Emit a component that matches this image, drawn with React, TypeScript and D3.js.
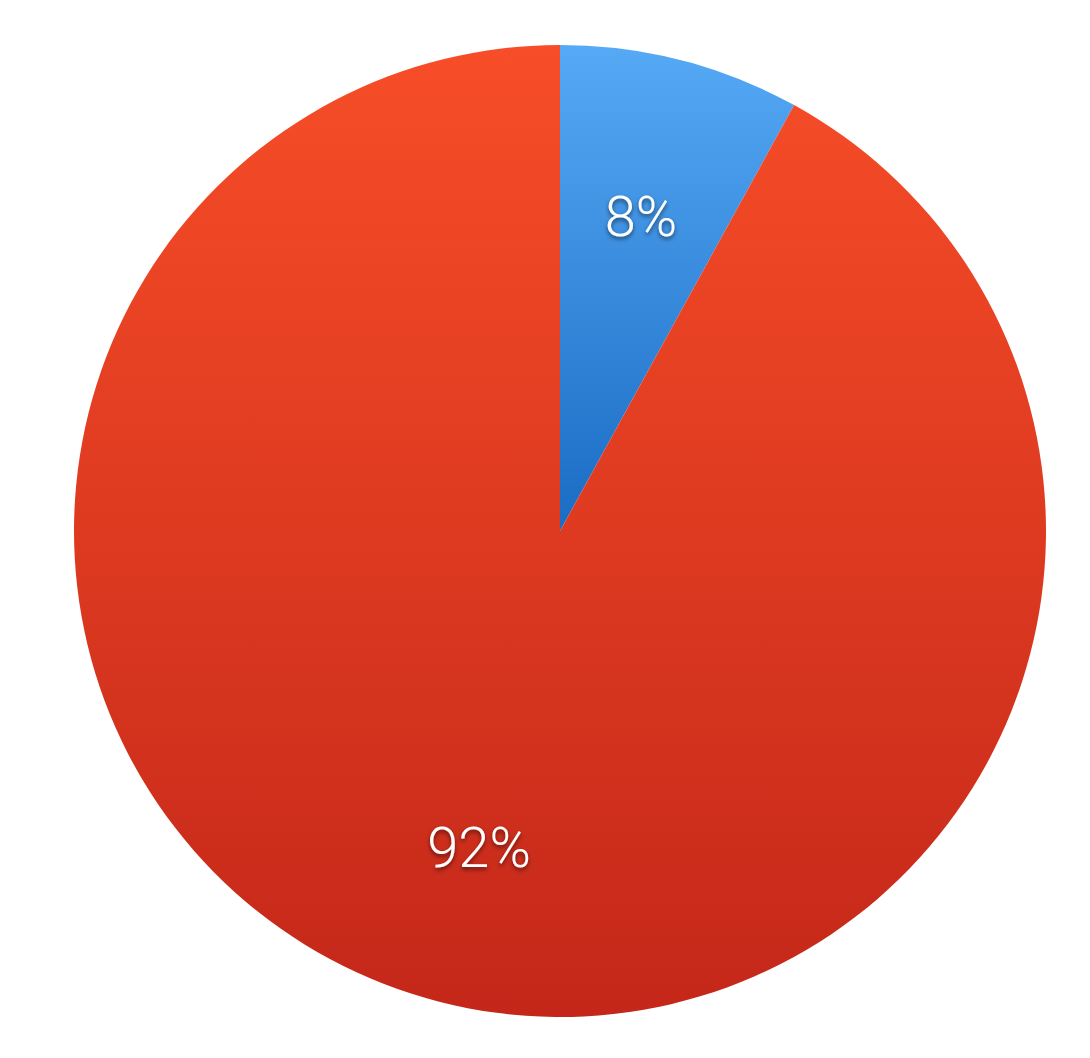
import React, {useRef, useEffect} from 'react';
import * as d3 from 'd3';

// slice values (percent)
const categories = ['A', 'B'];
const values = [8, 92];
const labels = ['8%', '92%'];

const topColors = ['#56a9f5', '#f74d28'];
const bottomColors = ['#1a6cc4', '#c42719'];

const width = 1090;
const height = 1058;

type Slice = {name: string; value: number; label: string};

const App: React.FC = () => {
    const svgRef = useRef<SVGSVGElement | null>(null);

    useEffect(() => {
        document.body.style.margin = '0';
        const svg = d3.select(svgRef.current);
        svg.selectAll('*').remove();

        const cx = 560, cy = 531, radius = 486;
        const data: Slice[] = categories.map((c, i) => ({name: c, value: values[i], label: labels[i]}));

        const pie = d3.pie<Slice>()
            .sort(null)
            .value(d => d.value);
        const arcs = pie(data);

        const arc = d3.arc<d3.PieArcDatum<Slice>>()
            .innerRadius(0)
            .outerRadius(radius);
        const labelArc = d3.arc<d3.PieArcDatum<Slice>>()
            .innerRadius(radius * 0.67)
            .outerRadius(radius * 0.67);

        const defs = svg.append('defs');
        // vertical gradient over each slice's own bounding box
        arcs.forEach((_, i) => {
            const grad = defs.append('linearGradient')
                .attr('id', `grad-${i}`)
                .attr('x1', 0).attr('y1', 0).attr('x2', 0).attr('y2', 1);
            grad.append('stop').attr('offset', '0%').attr('stop-color', topColors[i]);
            grad.append('stop').attr('offset', '100%').attr('stop-color', bottomColors[i]);
        });

        const filter = defs.append('filter')
            .attr('id', 'shadow')
            .attr('x', '-20%').attr('y', '-20%').attr('width', '140%').attr('height', '140%');
        filter.append('feDropShadow')
            .attr('dx', 0).attr('dy', 2.5)
            .attr('stdDeviation', 2)
            .attr('flood-color', '#000')
            .attr('flood-opacity', 0.55);

        const g = svg.append('g').attr('transform', `translate(${cx}, ${cy})`);

        g.selectAll('path.slice')
            .data(arcs)
            .enter()
            .append('path')
            .attr('class', 'slice')
            .attr('d', arc)
            .attr('fill', (_, i) => `url(#grad-${i})`);

        g.selectAll('text.label')
            .data(arcs)
            .enter()
            .append('text')
            .attr('class', 'label')
            .attr('transform', d => `translate(${labelArc.centroid(d)})`)
            .attr('text-anchor', 'middle')
            .attr('dy', '0.36em')
            .attr('fill', '#fff')
            .attr('font-family', 'Roboto, "Open Sans", sans-serif')
            .attr('font-weight', 300)
            .attr('font-size', 56)
            .attr('filter', 'url(#shadow)')
            .text(d => d.data.label);

        return () => {
            // eslint-disable-next-line react-hooks/exhaustive-deps
            d3.select(svgRef.current).selectAll('*').remove();
        };
    }, []);

    return (
        <svg ref={svgRef} width={width} height={height} style={{display: 'block', background: '#fff'}}/>
    );
};

export default App;
